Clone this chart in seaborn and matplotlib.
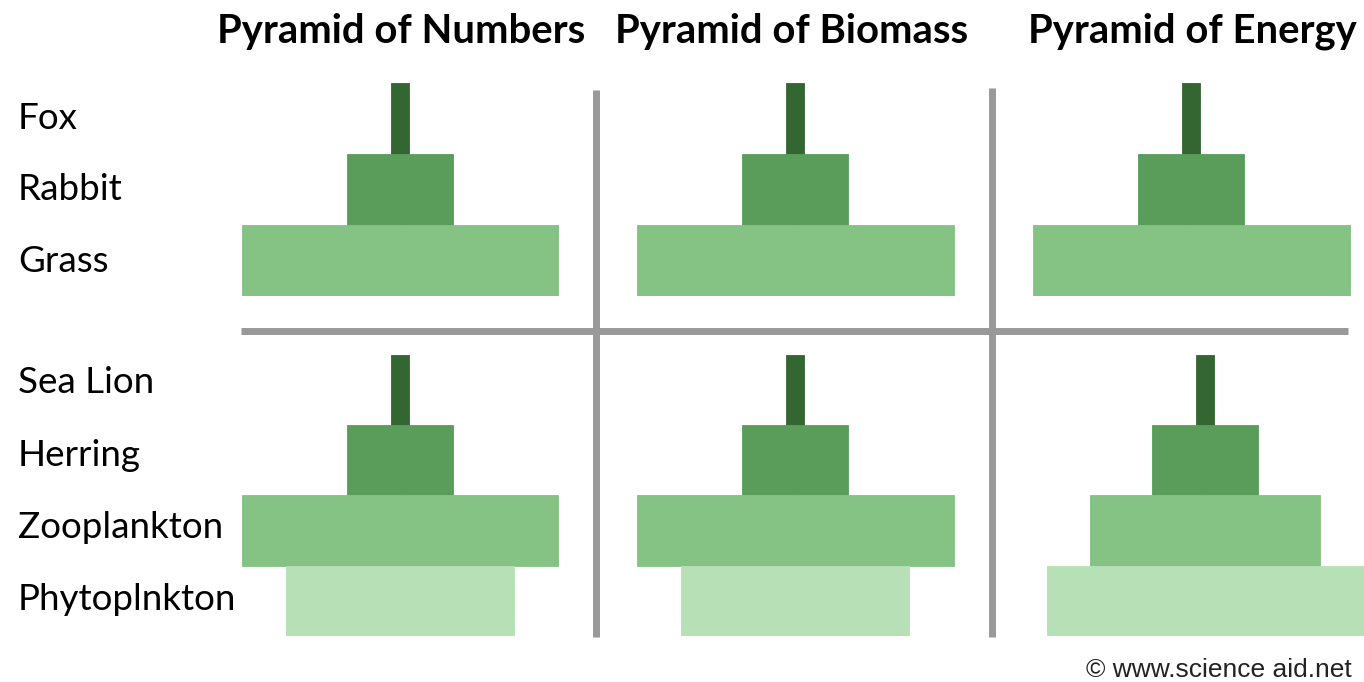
import matplotlib
matplotlib.use("Agg")
import matplotlib.pyplot as plt
from matplotlib.lines import Line2D
import seaborn as sns
import pandas as pd

# ---------------- data ----------------
titles = ["Pyramid of Numbers", "Pyramid of Biomass", "Pyramid of Energy"]
land_levels = ["Fox", "Rabbit", "Grass"]
sea_levels = ["Sea Lion", "Herring", "Zooplankton", "Phytoplnkton"]

# relative widths of each trophic level (largest = 100)
numbers_land = [5.5, 33.4, 100]
biomass_land = [5.5, 33.4, 100]
energy_land = [5.5, 33.4, 100]
numbers_sea = [5.5, 33.4, 100, 72]
biomass_sea = [5.5, 33.4, 100, 72]
energy_sea = [5.7, 33.4, 72.3, 100]

land_colors = ["#346631", "#5a9d5a", "#85c385"]
sea_colors = ["#346631", "#5a9d5a", "#85c385", "#b7e0b7"]
credit = "\u00a9 www.science aid.net"

# ---------------- layout (pixels) ----------------
W, H = 1364, 682
sns.set_theme(style="white")
plt.rcParams["font.family"] = ["Lato", "DejaVu Sans"]

fig = plt.figure(figsize=(W / 100, H / 100), dpi=100)

def px_rect(left, top, width, height):
    return [left / W, 1 - (top + height) / H, width / W, height / H]

PX_PER_UNIT = 317 / 100.0
AX_W = 380
panel_centers = [[400, 795, 1191], [400, 795, 1205]]
row_spans = [(83, 296), (355, 636)]

row_data = [
    (land_levels, land_colors, [numbers_land, biomass_land, energy_land]),
    (sea_levels, sea_colors, [numbers_sea, biomass_sea, energy_sea]),
]

for r, (levels, colors, series) in enumerate(row_data):
    top, bottom = row_spans[r]
    for c, vals in enumerate(series):
        cx = panel_centers[r][c]
        ax = fig.add_axes(px_rect(cx - AX_W / 2, top, AX_W, bottom - top))
        df = pd.DataFrame({"level": levels, "half": [v / 2 for v in vals]})
        pal = dict(zip(levels, colors))
        for sign in (1, -1):
            sns.barplot(data=df.assign(half=df["half"] * sign), x="half", y="level",
                        hue="level", palette=pal, legend=False, orient="h",
                        width=1.0, order=levels, hue_order=levels,
                        saturation=1, ax=ax)
        for p in ax.patches:
            p.set_edgecolor(p.get_facecolor())
            p.set_linewidth(0.6)
        lim = AX_W / 2 / PX_PER_UNIT
        ax.set_xlim(-lim, lim)
        ax.set_ylim(len(levels) - 0.5, -0.5)
        ax.axis("off")

# titles
title_x = [401, 792, 1192]
for t, x in zip(titles, title_x):
    fig.text(x / W, 1 - 43 / H, t, ha="center", va="baseline",
             fontsize=28.8, fontweight="bold", color="black")

# row labels
label_baselines = [129, 200, 272, 393, 466, 538, 610]
for lab, yb in zip(land_levels + sea_levels, label_baselines):
    fig.text(18 / W, 1 - yb / H, lab, ha="left", va="baseline",
             fontsize=26.5, color="black")

# divider lines
gray = "#999999"
lw = 5.0
fig.add_artist(Line2D([596 / W, 596 / W], [1 - 90 / H, 1 - 637 / H],
                      color=gray, lw=lw, transform=fig.transFigure, solid_capstyle="butt"))
fig.add_artist(Line2D([992 / W, 992 / W], [1 - 88 / H, 1 - 637 / H],
                      color=gray, lw=lw, transform=fig.transFigure, solid_capstyle="butt"))
fig.add_artist(Line2D([241 / W, 1348 / W], [1 - 331 / H, 1 - 331 / H],
                      color=gray, lw=lw, transform=fig.transFigure, solid_capstyle="butt"))

# credit
fig.text(1352 / W, 1 - 677 / H, credit, ha="right", va="baseline",
         fontsize=19, color="#222222", family=["Liberation Sans", "DejaVu Sans"])

fig.savefig("out.png", dpi=100, facecolor="white")
